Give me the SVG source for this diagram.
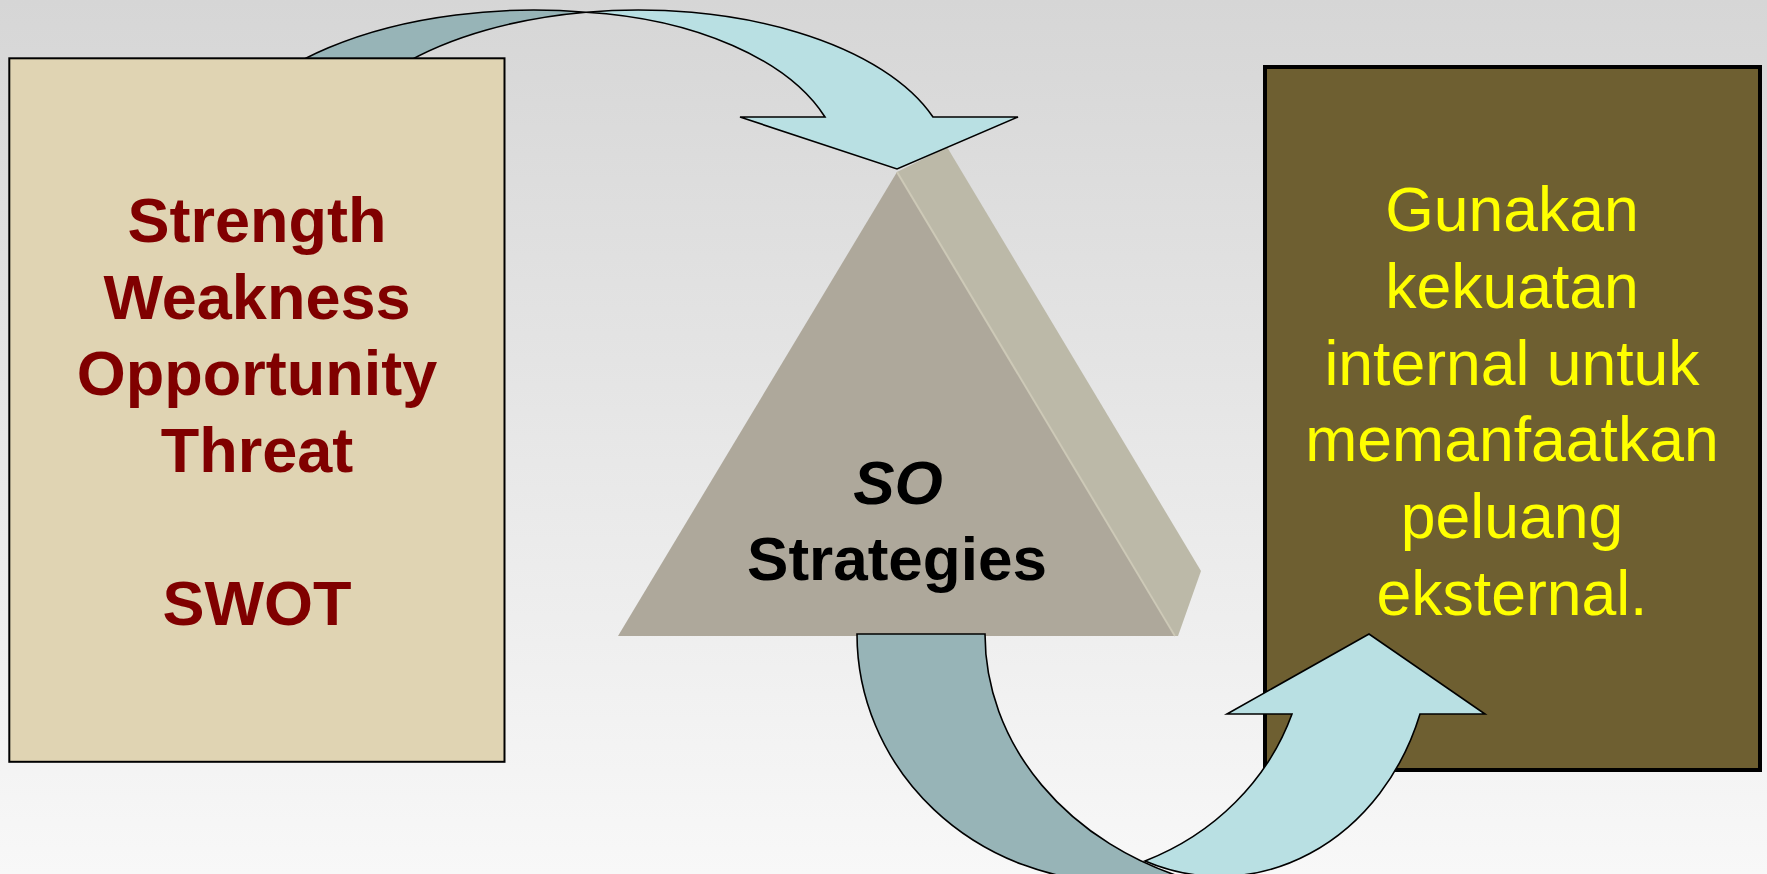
<svg xmlns="http://www.w3.org/2000/svg" width="1767" height="874" viewBox="0 0 1767 874">
<defs>
<linearGradient id="bg" x1="0" y1="0" x2="0" y2="1">
<stop offset="0" stop-color="#d6d6d6"/>
<stop offset="1" stop-color="#f8f8f8"/>
</linearGradient>
<style>
.box{stroke:#000}
.swot{font-family:"Liberation Sans",Arial,sans-serif;font-weight:bold;font-size:63px;fill:#800000;text-anchor:middle}
.act{font-family:"Liberation Sans",Arial,sans-serif;font-size:62.5px;fill:#ffff00;text-anchor:middle}
.mid{font-family:"Liberation Sans",Arial,sans-serif;font-weight:bold;font-size:62px;fill:#000;text-anchor:middle}
.back{fill:#97b4b7;stroke:#000;stroke-width:1.6;stroke-linejoin:miter}
.front{fill:#b9e0e3;stroke:#000;stroke-width:1.6;stroke-linejoin:miter}
</style>
</defs>
<rect x="0" y="0" width="1767" height="874" fill="url(#bg)"/>

<g id="node-so">
<polygon points="897,172 947,147 1201,571 1178,636 1175,636" fill="#bcb9a8"/>
<polygon points="897,172 618,636 1176,636" fill="#aea89b"/>
<line x1="897" y1="172" x2="1175" y2="636" stroke="#cdc9b7" stroke-width="2"/>
<text class="mid" x="898" y="504" font-style="italic">SO</text>
<text class="mid" x="897" y="580">Strategies</text>
</g>

<g id="node-action">
<rect class="box" x="1265" y="67" width="495" height="703" fill="#6e5f31" stroke-width="4"/>
<text class="act" x="1512" y="231">Gunakan</text>
<text class="act" x="1512" y="307.8">kekuatan</text>
<text class="act" x="1512" y="384.6">internal untuk</text>
<text class="act" x="1512" y="461.4">memanfaatkan</text>
<text class="act" x="1512" y="538.2">peluang</text>
<text class="act" x="1512" y="615">eksternal.</text>
</g>

<g id="connectors">
<g id="arrow-top">
<path class="back" d="M 216,169 A 318 159 0 0 1 586,12.2 A 312 159 0 0 0 326,169 Z"/>
<path class="front" d="M 586,12.2 A 312 159 0 0 1 933,117 L 1018,117 L 897,169 L 740,117 L 825,117 A 286 159 0 0 0 586,12.2 Z"/>
</g>
<g id="arrow-bottom">
<path class="back" d="M 857,634 L 985,634 A 305 260 0 0 0 1191,880 L 1119,882 A 262 248 0 0 1 857,634 Z"/>
<path class="front" d="M 1145,861 A 262 245 0 0 0 1292,714 L 1227,714 L 1369,634 L 1485,714 L 1420,714 A 212 241 0 0 1 1145,861 Z"/>
</g>
</g>

<g id="node-swot">
<rect class="box" x="9.3" y="58.3" width="495.2" height="703.5" fill="#e0d4b3" stroke-width="2"/>
<text class="swot" x="257" y="242">Strength</text>
<text class="swot" x="257" y="318.5">Weakness</text>
<text class="swot" x="257" y="395">Opportunity</text>
<text class="swot" x="257" y="471.5">Threat</text>
<text class="swot" x="257" y="624.5">SWOT</text>
</g>
</svg>
